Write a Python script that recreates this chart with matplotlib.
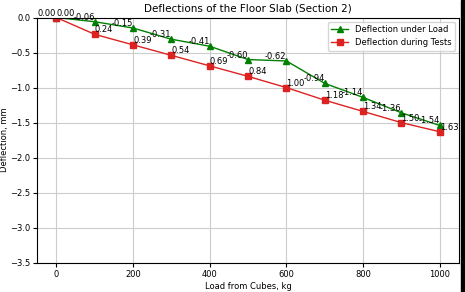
import matplotlib
matplotlib.use("Agg")
import matplotlib.pyplot as plt
from matplotlib.patches import Rectangle

load = [0, 100, 200, 300, 400, 500, 600, 700, 800, 900, 1000]
defl_load = [0.00, -0.06, -0.15, -0.31, -0.41, -0.60, -0.62, -0.94, -1.14, -1.36, -1.54]
defl_test = [0.00, -0.24, -0.39, -0.54, -0.69, -0.84, -1.00, -1.18, -1.34, -1.50, -1.63]

plt.rcParams['font.size'] = 6

fig, ax = plt.subplots(figsize=(4.65, 2.92), dpi=100)
fig.subplots_adjust(left=0.08, right=0.987, top=0.94, bottom=0.10)

ax.plot(load, defl_load, color='green', marker='^', markersize=4, linewidth=1,
        label='Deflection under Load')
ax.plot(load, defl_test, color='#dd2222', marker='s', markersize=4, linewidth=1,
        label='Deflection during Tests')

# value labels
for x, y in zip(load, defl_load):
    ax.text(x, y, "{:.2f}".format(y), ha='right', va='bottom', fontsize=6)
for x, y in zip(load, defl_test):
    ax.text(x, y, "{:.2f}".format(abs(y)), ha='left', va='bottom', fontsize=6)

ax.set_ylim(-3.5, 0)
ax.set_xlabel('Load from Cubes, kg', labelpad=2)
ax.set_ylabel('Deflection, mm', labelpad=1)
ax.set_title('Deflections of the Floor Slab (Section 2)', fontsize=7.5, pad=4)
ax.grid(True, color='#cccccc', linewidth=0.8)
ax.tick_params(length=3, pad=2)
ax.legend(loc='upper right', fontsize=6)

# black strip at right edge of the screenshot
fig.patches.append(Rectangle((0.991, 0), 0.009, 1, transform=fig.transFigure,
                             color='black', zorder=10))

fig.savefig('out.png', dpi=100)
